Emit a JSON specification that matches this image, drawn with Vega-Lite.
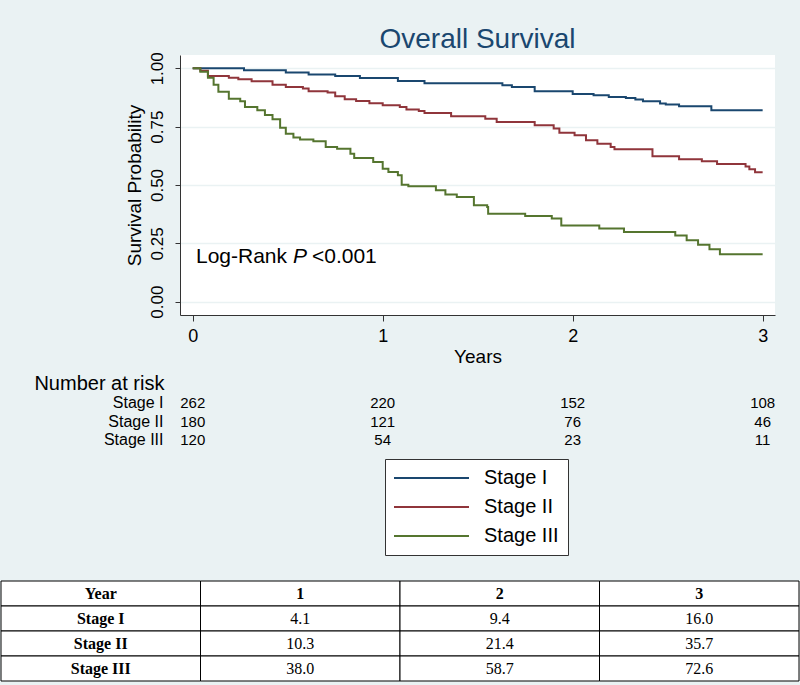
{
  "$schema": "https://vega.github.io/schema/vega-lite/v6.json",
  "background": "#eaf2f3",
  "padding": {"left": 0, "right": 0, "top": 25, "bottom": 4},
  "spacing": 8,
  "resolve": {"scale": {"x": "independent", "y": "independent"}},
  "config": {
    "font": "Liberation Sans",
    "view": {"stroke": null},
    "axis": {"domainColor": "#333", "tickColor": "#333", "labelColor": "#000", "titleColor": "#000", "titleFontWeight": "normal"},
    "legend": {
      "orient": "none", "legendX": 205, "legendY": 404,
      "symbolType": "M-2,0H13", "symbolSize": 100, "symbolStrokeWidth": 2,
      "labelFontSize": 20, "labelColor": "#000", "labelOffset": 70, "rowPadding": 9,
      "strokeColor": "#333", "fillColor": "white", "padding": 9
    }
  },
  "datasets": {
    "km": [
      {"stage": "Stage I", "t": 0, "s": 1},
      {"stage": "Stage I", "t": 0.27, "s": 0.992},
      {"stage": "Stage I", "t": 0.49, "s": 0.982},
      {"stage": "Stage I", "t": 0.61, "s": 0.973},
      {"stage": "Stage I", "t": 0.75, "s": 0.967},
      {"stage": "Stage I", "t": 0.88, "s": 0.958},
      {"stage": "Stage I", "t": 1.08, "s": 0.946},
      {"stage": "Stage I", "t": 1.22, "s": 0.936},
      {"stage": "Stage I", "t": 1.63, "s": 0.927},
      {"stage": "Stage I", "t": 1.68, "s": 0.92},
      {"stage": "Stage I", "t": 1.8, "s": 0.902},
      {"stage": "Stage I", "t": 2.0, "s": 0.89},
      {"stage": "Stage I", "t": 2.11, "s": 0.885},
      {"stage": "Stage I", "t": 2.19, "s": 0.877},
      {"stage": "Stage I", "t": 2.28, "s": 0.873},
      {"stage": "Stage I", "t": 2.33, "s": 0.866},
      {"stage": "Stage I", "t": 2.37, "s": 0.859},
      {"stage": "Stage I", "t": 2.46, "s": 0.849},
      {"stage": "Stage I", "t": 2.49, "s": 0.845},
      {"stage": "Stage I", "t": 2.56, "s": 0.837},
      {"stage": "Stage I", "t": 2.73, "s": 0.82},
      {"stage": "Stage I", "t": 3.0, "s": 0.82},
      {"stage": "Stage II", "t": 0, "s": 1},
      {"stage": "Stage II", "t": 0.04, "s": 0.99},
      {"stage": "Stage II", "t": 0.08, "s": 0.967},
      {"stage": "Stage II", "t": 0.19, "s": 0.959},
      {"stage": "Stage II", "t": 0.24, "s": 0.953},
      {"stage": "Stage II", "t": 0.31, "s": 0.945},
      {"stage": "Stage II", "t": 0.42, "s": 0.93},
      {"stage": "Stage II", "t": 0.49, "s": 0.92},
      {"stage": "Stage II", "t": 0.58, "s": 0.913},
      {"stage": "Stage II", "t": 0.61, "s": 0.902},
      {"stage": "Stage II", "t": 0.71, "s": 0.896},
      {"stage": "Stage II", "t": 0.75, "s": 0.88},
      {"stage": "Stage II", "t": 0.8, "s": 0.867},
      {"stage": "Stage II", "t": 0.86, "s": 0.86},
      {"stage": "Stage II", "t": 0.93, "s": 0.85},
      {"stage": "Stage II", "t": 1.0, "s": 0.842},
      {"stage": "Stage II", "t": 1.09, "s": 0.834},
      {"stage": "Stage II", "t": 1.125, "s": 0.824},
      {"stage": "Stage II", "t": 1.19, "s": 0.817},
      {"stage": "Stage II", "t": 1.22, "s": 0.809},
      {"stage": "Stage II", "t": 1.36, "s": 0.795},
      {"stage": "Stage II", "t": 1.54, "s": 0.784},
      {"stage": "Stage II", "t": 1.6, "s": 0.77},
      {"stage": "Stage II", "t": 1.8, "s": 0.756},
      {"stage": "Stage II", "t": 1.9, "s": 0.742},
      {"stage": "Stage II", "t": 1.93, "s": 0.724},
      {"stage": "Stage II", "t": 2.01, "s": 0.713},
      {"stage": "Stage II", "t": 2.07, "s": 0.692},
      {"stage": "Stage II", "t": 2.13, "s": 0.677},
      {"stage": "Stage II", "t": 2.2, "s": 0.663},
      {"stage": "Stage II", "t": 2.22, "s": 0.653},
      {"stage": "Stage II", "t": 2.42, "s": 0.623},
      {"stage": "Stage II", "t": 2.56, "s": 0.61},
      {"stage": "Stage II", "t": 2.68, "s": 0.602},
      {"stage": "Stage II", "t": 2.76, "s": 0.59},
      {"stage": "Stage II", "t": 2.91, "s": 0.579},
      {"stage": "Stage II", "t": 2.93, "s": 0.567},
      {"stage": "Stage II", "t": 2.96, "s": 0.555},
      {"stage": "Stage II", "t": 3.0, "s": 0.555},
      {"stage": "Stage III", "t": 0, "s": 1},
      {"stage": "Stage III", "t": 0.04, "s": 0.985},
      {"stage": "Stage III", "t": 0.08, "s": 0.96},
      {"stage": "Stage III", "t": 0.11, "s": 0.93},
      {"stage": "Stage III", "t": 0.135, "s": 0.9},
      {"stage": "Stage III", "t": 0.19, "s": 0.87},
      {"stage": "Stage III", "t": 0.25, "s": 0.859},
      {"stage": "Stage III", "t": 0.275, "s": 0.834},
      {"stage": "Stage III", "t": 0.34, "s": 0.82},
      {"stage": "Stage III", "t": 0.38, "s": 0.8},
      {"stage": "Stage III", "t": 0.42, "s": 0.782},
      {"stage": "Stage III", "t": 0.46, "s": 0.745},
      {"stage": "Stage III", "t": 0.49, "s": 0.72},
      {"stage": "Stage III", "t": 0.53, "s": 0.703},
      {"stage": "Stage III", "t": 0.565, "s": 0.695},
      {"stage": "Stage III", "t": 0.635, "s": 0.687},
      {"stage": "Stage III", "t": 0.7, "s": 0.663},
      {"stage": "Stage III", "t": 0.76, "s": 0.655},
      {"stage": "Stage III", "t": 0.83, "s": 0.634},
      {"stage": "Stage III", "t": 0.85, "s": 0.616},
      {"stage": "Stage III", "t": 0.95, "s": 0.599},
      {"stage": "Stage III", "t": 1.0, "s": 0.57},
      {"stage": "Stage III", "t": 1.03, "s": 0.556},
      {"stage": "Stage III", "t": 1.08, "s": 0.542},
      {"stage": "Stage III", "t": 1.1, "s": 0.501},
      {"stage": "Stage III", "t": 1.135, "s": 0.495},
      {"stage": "Stage III", "t": 1.28, "s": 0.477},
      {"stage": "Stage III", "t": 1.33, "s": 0.459},
      {"stage": "Stage III", "t": 1.39, "s": 0.449},
      {"stage": "Stage III", "t": 1.48, "s": 0.413},
      {"stage": "Stage III", "t": 1.55, "s": 0.406},
      {"stage": "Stage III", "t": 1.555, "s": 0.377},
      {"stage": "Stage III", "t": 1.75, "s": 0.367},
      {"stage": "Stage III", "t": 1.89, "s": 0.356},
      {"stage": "Stage III", "t": 1.94, "s": 0.327},
      {"stage": "Stage III", "t": 2.14, "s": 0.314},
      {"stage": "Stage III", "t": 2.27, "s": 0.299},
      {"stage": "Stage III", "t": 2.54, "s": 0.284},
      {"stage": "Stage III", "t": 2.6, "s": 0.263},
      {"stage": "Stage III", "t": 2.66, "s": 0.244},
      {"stage": "Stage III", "t": 2.72, "s": 0.225},
      {"stage": "Stage III", "t": 2.775, "s": 0.203},
      {"stage": "Stage III", "t": 3.0, "s": 0.203}
    ],
    "annot": [{"t": 0.017, "s": 0.165}],
    "risk": [
      {"stage": "Stage I", "t": 0, "n": 262},
      {"stage": "Stage I", "t": 1, "n": 220},
      {"stage": "Stage I", "t": 2, "n": 152},
      {"stage": "Stage I", "t": 3, "n": 108},
      {"stage": "Stage II", "t": 0, "n": 180},
      {"stage": "Stage II", "t": 1, "n": 121},
      {"stage": "Stage II", "t": 2, "n": 76},
      {"stage": "Stage II", "t": 3, "n": 46},
      {"stage": "Stage III", "t": 0, "n": 120},
      {"stage": "Stage III", "t": 1, "n": 54},
      {"stage": "Stage III", "t": 2, "n": 23},
      {"stage": "Stage III", "t": 3, "n": 11}
    ],
    "table": [
      {"row": "Year", "col": "Year", "text": "Year"},
      {"row": "Year", "col": "1", "text": "1"},
      {"row": "Year", "col": "2", "text": "2"},
      {"row": "Year", "col": "3", "text": "3"},
      {"row": "Stage I", "col": "Year", "text": "Stage I"},
      {"row": "Stage I", "col": "1", "text": "4.1"},
      {"row": "Stage I", "col": "2", "text": "9.4"},
      {"row": "Stage I", "col": "3", "text": "16.0"},
      {"row": "Stage II", "col": "Year", "text": "Stage II"},
      {"row": "Stage II", "col": "1", "text": "10.3"},
      {"row": "Stage II", "col": "2", "text": "21.4"},
      {"row": "Stage II", "col": "3", "text": "35.7"},
      {"row": "Stage III", "col": "Year", "text": "Stage III"},
      {"row": "Stage III", "col": "1", "text": "38.0"},
      {"row": "Stage III", "col": "2", "text": "58.7"},
      {"row": "Stage III", "col": "3", "text": "72.6"}
    ]
  },
  "vconcat": [
    {
      "width": 595,
      "height": 260,
      "title": {"text": "Overall Survival", "fontSize": 28, "fontWeight": "normal", "color": "#1a476f", "anchor": "middle", "frame": "group", "baseline": "alphabetic", "offset": -24},
      "view": {"fill": "white", "stroke": null},
      "layer": [
        {
          "data": {"name": "km"},
          "mark": {"type": "line", "interpolate": "step-after", "strokeWidth": 2},
          "encoding": {
            "x": {"field": "t", "type": "quantitative",
              "scale": {"domain": [-0.067, 3.065], "nice": false, "zero": false},
              "axis": {"title": "Years", "values": [0, 1, 2, 3], "format": "d", "grid": false, "labelFontSize": 18, "titleFontSize": 19, "tickSize": 6, "labelPadding": 6, "titlePadding": 2, "labelFlush": false}},
            "y": {"field": "s", "type": "quantitative",
              "scale": {"domain": [-0.057, 1.057], "nice": false, "zero": false},
              "axis": {"title": "Survival Probability", "values": [0, 0.25, 0.5, 0.75, 1], "format": ".2f", "grid": true, "gridColor": "#eaf2f3", "gridWidth": 1.5, "labelAngle": 270, "labelAlign": "center", "labelBaseline": "bottom", "labelFontSize": 17, "labelPadding": 9, "tickSize": 5, "titleFontSize": 19, "titlePadding": 4, "labelFlush": false}},
            "color": {"field": "stage", "type": "nominal",
              "scale": {"domain": ["Stage I", "Stage II", "Stage III"], "range": ["#1a476f", "#90353b", "#55752f"]},
              "legend": {"title": null}}
          }
        },
        {
          "data": {"name": "annot"},
          "mark": {"type": "text", "text": "Log-Rank", "fontSize": 21, "align": "left", "baseline": "alphabetic", "color": "#000"},
          "encoding": {"x": {"field": "t", "type": "quantitative"}, "y": {"field": "s", "type": "quantitative"}}
        },
        {
          "data": {"name": "annot"},
          "mark": {"type": "text", "text": "P", "fontSize": 21, "fontStyle": "italic", "align": "left", "baseline": "alphabetic", "color": "#000", "dx": 97},
          "encoding": {"x": {"field": "t", "type": "quantitative"}, "y": {"field": "s", "type": "quantitative"}}
        },
        {
          "data": {"name": "annot"},
          "mark": {"type": "text", "text": "<0.001", "fontSize": 21, "align": "left", "baseline": "alphabetic", "color": "#000", "dx": 116},
          "encoding": {"x": {"field": "t", "type": "quantitative"}, "y": {"field": "s", "type": "quantitative"}}
        }
      ]
    },
    {
      "width": 595,
      "height": 178,
      "title": {"text": "Number at risk", "fontSize": 20, "fontWeight": "normal", "color": "#000", "anchor": "start", "baseline": "alphabetic", "offset": -16, "dx": -69},
      "data": {"name": "risk"},
      "mark": {"type": "text", "fontSize": 15, "color": "#000"},
      "encoding": {
        "x": {"field": "t", "type": "quantitative", "scale": {"domain": [-0.067, 3.065], "nice": false, "zero": false}, "axis": null},
        "y": {"field": "stage", "type": "nominal",
          "scale": {"type": "band", "domain": ["Stage I", "Stage II", "Stage III"], "range": [0, 55.5], "paddingInner": 0, "paddingOuter": 0},
          "axis": {"title": null, "domain": false, "ticks": false, "labelFontSize": 16, "labelPadding": 17, "labelColor": "#000"}},
        "text": {"field": "n", "type": "quantitative"}
      }
    },
    {
      "width": 595,
      "height": 100,
      "data": {"name": "table"},
      "layer": [
        {
          "mark": {"type": "rect", "fill": "white", "stroke": "#000", "strokeWidth": 1},
          "encoding": {
            "x": {"field": "col", "type": "nominal", "scale": {"domain": ["Year", "1", "2", "3"], "range": [-179, 619], "paddingInner": 0, "paddingOuter": 0}, "axis": null},
            "y": {"field": "row", "type": "nominal", "scale": {"domain": ["Year", "Stage I", "Stage II", "Stage III"], "paddingInner": 0, "paddingOuter": 0}, "axis": null}
          }
        },
        {
          "transform": [{"filter": "datum.row === 'Year' || datum.col === 'Year'"}],
          "mark": {"type": "text", "font": "Liberation Serif", "fontWeight": "bold", "fontSize": 16, "color": "#000"},
          "encoding": {
            "x": {"field": "col", "type": "nominal"},
            "y": {"field": "row", "type": "nominal"},
            "text": {"field": "text", "type": "nominal"}
          }
        },
        {
          "transform": [{"filter": "datum.row !== 'Year' && datum.col !== 'Year'"}],
          "mark": {"type": "text", "font": "Liberation Serif", "fontSize": 16, "color": "#000"},
          "encoding": {
            "x": {"field": "col", "type": "nominal"},
            "y": {"field": "row", "type": "nominal"},
            "text": {"field": "text", "type": "nominal"}
          }
        }
      ]
    }
  ]
}
